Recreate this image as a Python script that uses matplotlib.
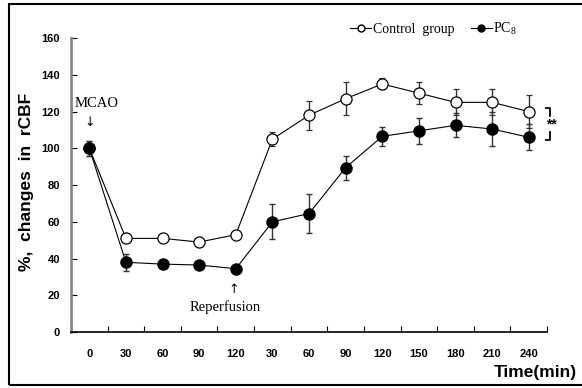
import matplotlib
matplotlib.use("Agg")
import matplotlib.pyplot as plt
from matplotlib.lines import Line2D
from matplotlib.patches import Rectangle

plt.rcParams['mathtext.default'] = 'regular'

# time points: occlusion (0-120) then reperfusion (30-240)
time_labels = ['0', '30', '60', '90', '120', '30', '60', '90', '120', '150', '180', '210', '240']
control = [100, 51, 51, 49, 53, 105, 118, 127, 135, 130, 125, 125, 120]
control_err = [4, 2, 2, 2, 2, 4, 8, 9, 3, 6, 7, 7, 9]
pc8 = [100, 38, 37, 36.5, 34.5, 60, 64.5, 89.5, 106.5, 109.5, 112.5, 110.5, 106]
pc8_err = [4, 4.5, 1.5, 1.5, 1.5, 9.5, 10.5, 6.5, 5, 7, 6.5, 9, 7]

serif = 'Liberation Serif'
sans = 'Liberation Sans'

fig = plt.figure(figsize=(5.82, 3.88), dpi=100)
ax = fig.add_axes([0.122, 0.144, 0.818, 0.758])

x = list(range(len(time_labels)))
ax.errorbar(x, control, yerr=control_err, color='black', lw=0.8, marker='o', ms=8,
            mfc='white', mec='black', mew=0.9, ecolor='#333333', elinewidth=1,
            capsize=2.5, zorder=3)
ax.errorbar(x, pc8, yerr=pc8_err, color='black', lw=0.8, marker='o', ms=8,
            mfc='black', mec='black', ecolor='#333333', elinewidth=1,
            capsize=2.5, zorder=4)

ax.set_xlim(-0.5, 12.5)
ax.set_ylim(0, 160)
ax.set_yticks(range(0, 161, 20))
ax.set_xticks(x)
ax.set_xticklabels(time_labels)
ax.set_xticks([i + 0.5 for i in range(-1, 13)], minor=True)
ax.tick_params(axis='x', which='major', length=0, pad=12)
ax.tick_params(axis='x', which='minor', direction='in', length=4, width=0.8)
ax.tick_params(axis='y', direction='in', length=4, width=0.8, pad=8)
for lab in ax.get_xticklabels() + ax.get_yticklabels():
    lab.set_fontfamily(sans)
    lab.set_fontweight('bold')
    lab.set_fontsize(8)

ax.spines['top'].set_visible(False)
ax.spines['right'].set_visible(False)
ax.spines['left'].set_color('#888888')
ax.spines['left'].set_linewidth(2)
ax.spines['bottom'].set_linewidth(1.2)

# annotations
ax.text(0.2, 124.5, 'MCAO', fontfamily=serif, fontsize=10.5, ha='center', va='center')
ax.text(0.02, 114, '\u2193', fontsize=9, ha='center', va='center')
ax.text(3.93, 23, '\u2191', fontsize=9, ha='center', va='center')
ax.text(3.72, 13.5, 'Reperfusion', fontfamily=serif, fontsize=10.5, ha='center', va='center')

# significance bracket
ax.plot([12.48, 12.59, 12.59], [122, 122, 117.5], color='black', lw=1.3, clip_on=False)
ax.plot([12.48, 12.59, 12.59], [104.5, 104.5, 109], color='black', lw=1.3, clip_on=False)
ax.text(12.62, 113, '**', fontfamily=sans, fontweight='bold', fontsize=10,
        ha='center', va='center', clip_on=False)

# labels
fig.text(0.046, 0.532, '%,  changes  in  rCBF', rotation=90, fontfamily=sans,
         fontweight='bold', fontsize=12.5, ha='center', va='center')
fig.text(0.992, 0.041, 'Time(min)', fontfamily=sans, fontweight='bold',
         fontsize=12.5, ha='right', va='center')

handles = [
    Line2D([], [], color='black', lw=0.8, marker='o', ms=5, mfc='white', mec='black'),
    Line2D([], [], color='black', lw=0.8, marker='o', ms=5, mfc='black', mec='black'),
]
fig.legend(handles, ['Control  group', 'PC$_8$'], loc='center', ncol=2,
           bbox_to_anchor=(0.745, 0.926), frameon=False, handlelength=1.5,
           handletextpad=0.1, columnspacing=1.2, prop={'family': serif, 'size': 10})

# outer frame
fig.patches.append(Rectangle((0.016, 0.008), 1.2, 0.982, transform=fig.transFigure,
                             fill=False, edgecolor='black', lw=1.5))

fig.savefig('out.png', dpi=100)
